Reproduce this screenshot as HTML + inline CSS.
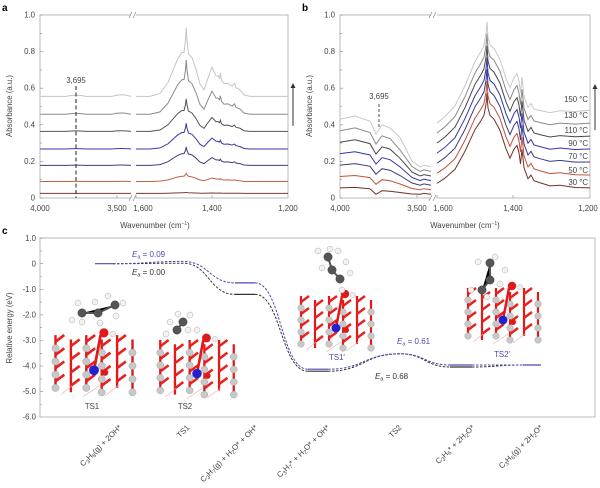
<!DOCTYPE html>
<html><head><meta charset="utf-8"><style>
html,body{margin:0;padding:0;background:#fff;}
svg{display:block;font-family:"Liberation Sans",sans-serif;}
text{font-size:7.8px;fill:#444;}
</style></head><body>
<svg width="600" height="488" viewBox="0 0 600 488" xmlns="http://www.w3.org/2000/svg">
<defs>
<path id="sa" d="M40,0 L66,0 Q76,-3 86,0 L112,0 Q121,-4 131,0 M136,0 L150,0 L160,-4 L168,-19 L174,-39 L178,-52 L182,-60 L184,-60 L185.5,-77 L186.2,-94 L187,-76 L188.5,-58 L192,-53 L196,-37 L200,-17 L204,-9 L208,-25 L212,-40 L216,-28 L218,-28 L219.5,-25 L220.4,-32 L221.5,-22 L224,-17.5 L228,-18 L232,-14 L234.5,-18 L236,-12 L240,-9 L244,-2 L250,0 L288,0" fill="none" vector-effect="non-scaling-stroke" stroke-width="1"/>
<path id="sb" d="M437,0 L445,-3 L455,-8 L465,-18 L475,-30 L481,-35 L484,-38 L486,-44 L487,-50 L488,-42 L490,-38 L494,-36 L500,-30 L506,-20 L510,-15 L514,-20 L517,-22 L519,-18 L520.5,-12 L522,-20 L524,-10 L528,-4 L531,-6 L534,-3 L540,-2 L550,-0.5 L560,-1 L575,0 L590,0" fill="none" vector-effect="non-scaling-stroke" stroke-width="1"/>
<g id="slab">
<path d="M-35,41V89M-21,45V93M-7,41V89M7,45V93M21,41V89M35,45V93" stroke="#e01a1a" stroke-width="2.2"/>
<path d="M-35,47l8,-6M-35,59l8,-6M-35,71l8,-6M-35,83l8,-6M-21,51l8,-6M-21,63l8,-6M-21,75l8,-6M-21,87l8,-6M-7,47l8,-6M-7,59l8,-6M-7,71l8,-6M-7,83l8,-6M7,51l8,-6M7,63l8,-6M7,75l8,-6M7,87l8,-6M21,47l8,-6M21,59l8,-6M21,71l8,-6M21,83l8,-6" stroke="#e82020" stroke-width="2.4"/>
<path d="M-30,95l10,-8M-10,97l15,-10M10,96l12,-9" stroke="#f0b0b0" stroke-width="0.6"/>
<g fill="#c8c8c8" stroke="#999" stroke-width="0.4">
<circle cx="-35" cy="53" r="3.3"/><circle cx="-35" cy="65" r="3.3"/><circle cx="-35" cy="77" r="3.3"/><circle cx="-35" cy="89" r="3.3"/>
<circle cx="-7" cy="53" r="3.3"/><circle cx="-7" cy="65" r="3.3"/><circle cx="-7" cy="77" r="3.3"/><circle cx="-7" cy="89" r="3.3"/>
<circle cx="7" cy="57" r="3.3"/><circle cx="7" cy="69" r="3.3"/><circle cx="7" cy="81" r="3.3"/><circle cx="7" cy="93" r="3.3"/>
<circle cx="35" cy="57" r="3.3"/><circle cx="35" cy="69" r="3.3"/><circle cx="35" cy="81" r="3.3"/><circle cx="35" cy="93" r="3.3"/>
</g>
<line x1="0" y1="73" x2="6" y2="41" stroke="#e01a1a" stroke-width="2.5"/>
<circle cx="0" cy="73" r="4.5" fill="#2222cc"/><circle cx="10" cy="75" r="3" fill="#e01a1a"/>
<circle cx="9" cy="39" r="4.2" fill="#e01a1a"/><circle cx="17" cy="40" r="2.6" fill="#eee" stroke="#aaa" stroke-width="0.4"/>
</g>
</defs>

<text x="2" y="11" style="font-weight:bold;font-size:10px;fill:#000">a</text>
<text x="302" y="11" style="font-weight:bold;font-size:10px;fill:#000">b</text>
<text x="2" y="234" style="font-weight:bold;font-size:10px;fill:#000">c</text>

<!-- Panel a -->
<rect x="40" y="15" width="248" height="183" fill="none" stroke="#aaa" stroke-width="0.8"/>
<rect x="131" y="12" width="5" height="6" fill="#fff"/><rect x="131" y="195" width="5" height="6" fill="#fff"/>
<path d="M129,18L132,12M133,18L136,12M129,201L132,195M133,201L136,195" stroke="#888" stroke-width="0.7"/>
<path d="M40,198h3M40,179.7h2M40,161.4h3M40,143.1h2M40,124.8h3M40,106.5h2M40,88.2h3M40,69.9h2M40,51.6h3M40,33.3h2M40,15h3M117,198v-3M136,198v-3M212,198v-3" stroke="#888" stroke-width="0.6"/>
<g text-anchor="end"><text x="35" y="200.5">0</text><text x="35" y="163.9">0.2</text><text x="35" y="127.3">0.4</text><text x="35" y="90.7">0.6</text><text x="35" y="54.1">0.8</text><text x="35" y="17.5">1.0</text></g>
<g text-anchor="middle"><text x="40" y="211">4,000</text><text x="117" y="211">3,500</text><text x="143" y="211">1,600</text><text x="212" y="211">1,400</text><text x="288" y="211">1,200</text>
<text x="155" y="228">Wavenumber (cm<tspan dy="-3" style="font-size:5px">−1</tspan><tspan dy="3">)</tspan></text>
<text transform="translate(12,106) rotate(-90)">Absorbance (a.u.)</text></g>

<use href="#sa" stroke="#7a3a30" transform="matrix(1,0,0,0.011,0,193.4)"/>
<use href="#sa" stroke="#c0604a" transform="matrix(1,0,0,0.088,0,181.5)"/>
<use href="#sa" stroke="#3c3c7c" transform="matrix(1,0,0,0.196,0,165.4)"/>
<use href="#sa" stroke="#3a3aa8" transform="matrix(1,0,0,0.275,0,149)"/>
<use href="#sa" stroke="#555555" transform="matrix(1,0,0,0.348,0,131.4)"/>
<use href="#sa" stroke="#8a8a8a" transform="matrix(1,0,0,0.576,0,114.2)"/>
<use href="#sa" stroke="#c4c4c4" transform="matrix(1,0,0,0.732,0,96.4)"/>
<line x1="76" y1="86" x2="76" y2="198" stroke="#333" stroke-width="1.1" stroke-dasharray="4,2.5"/>
<text x="76" y="83" text-anchor="middle">3,695</text>
<line x1="293" y1="126" x2="293" y2="87" stroke="#333"/><path d="M290.5,88L293,83L295.5,88Z" fill="#333"/>

<!-- Panel b -->
<rect x="340" y="15" width="250" height="183" fill="none" stroke="#aaa" stroke-width="0.8"/>
<rect x="431" y="12" width="6" height="6" fill="#fff"/><rect x="431" y="195" width="6" height="6" fill="#fff"/>
<path d="M429,18L432,12M433,18L436,12M429,201L432,195M433,201L436,195" stroke="#888" stroke-width="0.7"/>
<path d="M340,198h3M340,179.7h2M340,161.4h3M340,143.1h2M340,124.8h3M340,106.5h2M340,88.2h3M340,69.9h2M340,51.6h3M340,33.3h2M340,15h3M417,198v-3M437,198v-3M513,198v-3" stroke="#888" stroke-width="0.6"/>
<g text-anchor="end"><text x="335" y="200.5">0</text><text x="335" y="163.9">0.2</text><text x="335" y="127.3">0.4</text><text x="335" y="90.7">0.6</text><text x="335" y="54.1">0.8</text><text x="335" y="17.5">1.0</text></g>
<g text-anchor="middle"><text x="340" y="211">4,000</text><text x="417" y="211">3,500</text><text x="443" y="211">1,600</text><text x="513" y="211">1,400</text><text x="588" y="211">1,200</text>
<text x="465" y="228">Wavenumber (cm<tspan dy="-3" style="font-size:5px">−1</tspan><tspan dy="3">)</tspan></text>
<text transform="translate(312,106) rotate(-90)">Absorbance (a.u.)</text></g>

<g fill="none" stroke-width="1">
<polyline stroke="#6e3228" points="340,187.9 355,187.4 370,188.9 376,194.3 382,190.7 390,191.2 400,192.5 412,194 420,194.3 424,193.4 431,194.3"/>
<polyline stroke="#c0503a" points="340,176.5 355,175.5 370,177.6 376,184.3 382,179.7 390,180.7 400,184 412,188.5 420,189.8 424,188.7 431,189.8"/>
<polyline stroke="#3a3a7e" points="340,165.1 355,163.6 370,166.3 376,174.2 382,168.7 390,170.2 400,175.5 412,183 420,185.2 424,183.9 431,185.2"/>
<polyline stroke="#3535aa" points="340,153.6 355,151.7 370,155 376,164.1 382,157.7 390,159.7 400,166.9 412,177.5 420,180.6 424,179.2 431,180.6"/>
<polyline stroke="#474747" points="340,142.2 355,139.8 370,143.6 376,154.1 382,146.8 390,149.1 400,158.3 412,172 420,176 424,174.6 431,176"/>
<polyline stroke="#8a8a8a" points="340,130.7 355,127.9 370,132.5 376,144 382,135.8 390,138.6 400,149.9 412,166.5 420,171.5 424,169.8 431,171.5"/>
<polyline stroke="#c8c8c8" points="340,119.3 355,116 370,121.1 376,134 382,124.8 390,128.1 400,137.6 412,161 420,166.9 424,165.1 431,166.9"/>
</g>
<use href="#sb" stroke="#6e3228" transform="matrix(1,0.0299,0,1.83,0,170.29)"/>
<use href="#sb" stroke="#c0503a" transform="matrix(1,0.011,0,1.85,0,168.48)"/>
<use href="#sb" stroke="#3a3a7e" transform="matrix(1,-0.0079,0,1.87,0,166.68)"/>
<use href="#sb" stroke="#3535aa" transform="matrix(1,-0.0268,0,1.88,0,164.87)"/>
<use href="#sb" stroke="#474747" transform="matrix(1,-0.0457,0,1.9,0,163.07)"/>
<use href="#sb" stroke="#8a8a8a" transform="matrix(1,-0.0646,0,1.92,0,161.26)"/>
<use href="#sb" stroke="#c8c8c8" transform="matrix(1,-0.0835,0,1.94,0,159.46)"/>
<line x1="379" y1="104" x2="379" y2="128" stroke="#555" stroke-dasharray="3,2"/>
<text x="379" y="99" text-anchor="middle">3,695</text>
<g text-anchor="end">
<text x="588" y="185">30 °C</text><text x="588" y="173">50 °C</text><text x="588" y="159">70 °C</text><text x="588" y="146">90 °C</text><text x="588" y="133">110 °C</text><text x="588" y="118">130 °C</text><text x="588" y="102">150 °C</text></g>
<line x1="595" y1="130" x2="595" y2="88" stroke="#333"/><path d="M592.5,89L595,84L597.5,89Z" fill="#333"/>

<!-- Panel c -->
<rect x="40" y="238" width="555" height="179" fill="none" stroke="#aaa" stroke-width="0.8"/>
<path d="M40,238.1h3M40,263.7h3M40,289.3h3M40,314.9h3M40,340.5h3M40,366.1h3M40,391.7h3M40,417.3h-0M40,250.9h2M40,276.5h2M40,302.1h2M40,327.7h2M40,353.3h2M40,378.9h2M40,404.5h2" stroke="#888" stroke-width="0.6"/>
<g text-anchor="end"><text x="36" y="241">1.0</text><text x="36" y="266.5">0</text><text x="36" y="292">-1.0</text><text x="36" y="317.5">-2.0</text><text x="36" y="343">-3.0</text><text x="36" y="368.5">-4.0</text><text x="36" y="394">-5.0</text><text x="36" y="419.5">-6.0</text></g>
<text transform="translate(12,328) rotate(-90)" text-anchor="middle">Relative energy (eV)</text>

<use href="#slab" transform="translate(94,290) scale(1.1)"/>
<use href="#slab" transform="translate(197,297) scale(1.05)"/>
<use href="#slab" transform="translate(336,255) scale(1.0)"/>
<use href="#slab" transform="translate(503,247) scale(1.0)"/>
<g stroke-width="0.4">
<path d="M82,313L98,313L115,305M177,330L183,322M332,270L328,257M332,270L340,279M490,263L490,280L482,290" stroke="#555" stroke-width="2"/>
<circle cx="72" cy="320" r="3" fill="#f2f2f2" stroke="#999"/><circle cx="78" cy="303" r="3" fill="#f2f2f2" stroke="#999"/><circle cx="95" cy="302" r="3" fill="#f2f2f2" stroke="#999"/><circle cx="100" cy="323" r="3" fill="#f2f2f2" stroke="#999"/><circle cx="108" cy="296" r="3" fill="#f2f2f2" stroke="#999"/><circle cx="123" cy="303" r="3" fill="#f2f2f2" stroke="#999"/><circle cx="116" cy="316" r="3" fill="#f2f2f2" stroke="#999"/><circle cx="82" cy="322" r="3" fill="#f2f2f2" stroke="#999"/>
<circle cx="82" cy="313" r="4.2" fill="#555" stroke="#333"/><circle cx="98" cy="313" r="4.2" fill="#555" stroke="#333"/><circle cx="115" cy="305" r="4.2" fill="#555" stroke="#333"/>
<circle cx="170" cy="322" r="3" fill="#f2f2f2" stroke="#999"/><circle cx="178" cy="314" r="3" fill="#f2f2f2" stroke="#999"/><circle cx="190" cy="315" r="3" fill="#f2f2f2" stroke="#999"/><circle cx="197" cy="330" r="3" fill="#f2f2f2" stroke="#999"/><circle cx="166" cy="334" r="3" fill="#f2f2f2" stroke="#999"/><circle cx="188" cy="330" r="3" fill="#f2f2f2" stroke="#999"/>
<circle cx="177" cy="330" r="4.2" fill="#555" stroke="#333"/><circle cx="183" cy="322" r="4.2" fill="#555" stroke="#333"/>
<circle cx="318" cy="251" r="3" fill="#f2f2f2" stroke="#999"/><circle cx="330" cy="249" r="3" fill="#f2f2f2" stroke="#999"/><circle cx="338" cy="251" r="3" fill="#f2f2f2" stroke="#999"/><circle cx="322" cy="268" r="3" fill="#f2f2f2" stroke="#999"/><circle cx="350" cy="273" r="3" fill="#f2f2f2" stroke="#999"/><circle cx="342" cy="290" r="3" fill="#f2f2f2" stroke="#999"/><circle cx="346" cy="262" r="3" fill="#f2f2f2" stroke="#999"/>
<circle cx="328" cy="257" r="4.2" fill="#555" stroke="#333"/><circle cx="332" cy="270" r="4.2" fill="#555" stroke="#333"/><circle cx="340" cy="279" r="4.2" fill="#555" stroke="#333"/>
<circle cx="478" cy="262" r="3" fill="#f2f2f2" stroke="#999"/><circle cx="495" cy="257" r="3" fill="#f2f2f2" stroke="#999"/><circle cx="505" cy="270" r="3" fill="#f2f2f2" stroke="#999"/><circle cx="500" cy="284" r="3" fill="#f2f2f2" stroke="#999"/><circle cx="471" cy="290" r="3" fill="#f2f2f2" stroke="#999"/><circle cx="487" cy="297" r="3" fill="#f2f2f2" stroke="#999"/>
<circle cx="490" cy="263" r="4.2" fill="#555" stroke="#333"/><circle cx="490" cy="280" r="4.2" fill="#555" stroke="#333"/><circle cx="482" cy="290" r="4.2" fill="#555" stroke="#333"/>
</g>
<g text-anchor="middle"><text x="92" y="409">TS1</text><text x="185" y="409">TS2</text><text x="337" y="360" style="fill:#4848b0">TS1′</text><text x="502" y="357" style="fill:#4848b0">TS2′</text></g>

<g fill="none" stroke-width="1" stroke-dasharray="2.5,1.5">
<path stroke="#333" d="M113,263.7 C148,263.7 148,263.2 183,263.2 C209,263.2 209,294.4 235,294.4 M255,294.4 C281,294.4 281,371.2 308,371.2 M328,371.2 C364,371.2 364,353.8 400,353.8 C425,353.8 425,367 450,367 M472,367 C497,367 497,365 523,365"/>
<path stroke="#4a4ab0" d="M113,263.7 C148,263.7 148,261.4 183,261.4 C209,261.4 209,282.9 235,282.9 M255,282.9 C281,282.9 281,369.2 308,369.2 M328,369.2 C364,369.2 364,353.8 400,353.8 C425,353.8 425,365 450,365 M472,365 L523,365"/>
</g>
<g stroke-width="1.2">
<line x1="95" y1="263.7" x2="113" y2="263.7" stroke="#4a4ab0"/>
<line x1="235" y1="294.4" x2="255" y2="294.4" stroke="#333"/><line x1="235" y1="282.9" x2="255" y2="282.9" stroke="#4a4ab0"/>
<line x1="308" y1="371.2" x2="328" y2="371.2" stroke="#333"/><line x1="308" y1="369.2" x2="328" y2="369.2" stroke="#4a4ab0"/>
<line x1="450" y1="367" x2="472" y2="367" stroke="#333"/><line x1="450" y1="365" x2="472" y2="365" stroke="#4a4ab0"/>
<line x1="523" y1="365" x2="541" y2="365" stroke="#4a4ab0"/>
</g>
<text x="132" y="257" style="font-size:8px;fill:#4a4ab0"><tspan font-style="italic">E</tspan><tspan dy="1.5" style="font-size:5.5px">a</tspan><tspan dy="-1.5"> = 0.09</tspan></text>
<text x="132" y="275" style="font-size:8px;fill:#333"><tspan font-style="italic">E</tspan><tspan dy="1.5" style="font-size:5.5px">a</tspan><tspan dy="-1.5"> = 0.00</tspan></text>
<text x="397" y="344" style="font-size:8px;fill:#4a4ab0"><tspan font-style="italic">E</tspan><tspan dy="1.5" style="font-size:5.5px">a</tspan><tspan dy="-1.5"> = 0.61</tspan></text>
<text x="375" y="379" style="font-size:8px;fill:#333"><tspan font-style="italic">E</tspan><tspan dy="1.5" style="font-size:5.5px">a</tspan><tspan dy="-1.5"> = 0.68</tspan></text>

<g text-anchor="end">
<text transform="translate(122,428) rotate(-45)">C<tspan dy="1.5" style="font-size:5.5px">3</tspan><tspan dy="-1.5">H</tspan><tspan dy="1.5" style="font-size:5.5px">8</tspan><tspan dy="-1.5">(g) + 2OH*</tspan></text>
<text transform="translate(190,428) rotate(-45)">TS1</text>
<text transform="translate(258,428) rotate(-45)">C<tspan dy="1.5" style="font-size:5.5px">3</tspan><tspan dy="-1.5">H</tspan><tspan dy="1.5" style="font-size:5.5px">7</tspan><tspan dy="-1.5">(g) + H</tspan><tspan dy="1.5" style="font-size:5.5px">2</tspan><tspan dy="-1.5">O* + OH*</tspan></text>
<text transform="translate(330,428) rotate(-45)">C<tspan dy="1.5" style="font-size:5.5px">3</tspan><tspan dy="-1.5">H</tspan><tspan dy="1.5" style="font-size:5.5px">7</tspan><tspan dy="-1.5">* + H</tspan><tspan dy="1.5" style="font-size:5.5px">2</tspan><tspan dy="-1.5">O* + OH*</tspan></text>
<text transform="translate(402,428) rotate(-45)">TS2</text>
<text transform="translate(475,428) rotate(-45)">C<tspan dy="1.5" style="font-size:5.5px">3</tspan><tspan dy="-1.5">H</tspan><tspan dy="1.5" style="font-size:5.5px">6</tspan><tspan dy="-1.5">* + 2H</tspan><tspan dy="1.5" style="font-size:5.5px">2</tspan><tspan dy="-1.5">O*</tspan></text>
<text transform="translate(543,428) rotate(-45)">C<tspan dy="1.5" style="font-size:5.5px">3</tspan><tspan dy="-1.5">H</tspan><tspan dy="1.5" style="font-size:5.5px">6</tspan><tspan dy="-1.5">(g) + 2H</tspan><tspan dy="1.5" style="font-size:5.5px">2</tspan><tspan dy="-1.5">O*</tspan></text>
</g>
</svg>
</body></html>
